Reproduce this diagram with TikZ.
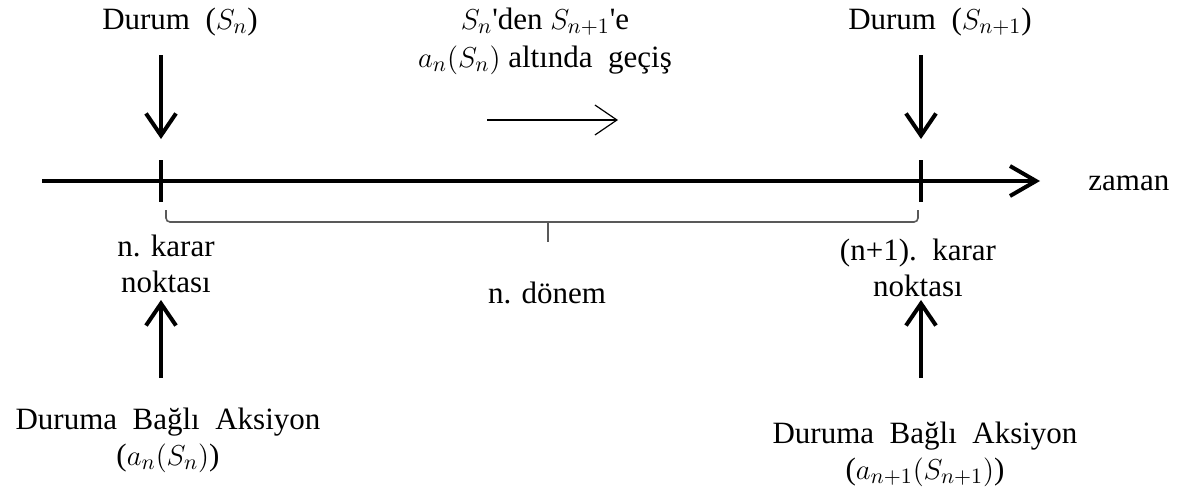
\documentclass[tikz,border=0pt]{standalone}
\usepackage{fontspec}
\setmainfont{LiberationSerif}[Extension=.ttf, UprightFont=*-Regular, BoldFont=*-Bold, ItalicFont=*-Italic]
\usepackage{amsmath}
\usepackage{tikz}
\usetikzlibrary{positioning,arrows.meta}

\begin{document}
\begin{tikzpicture}[
  x=0.5pt, y=-0.5pt,
  lbl/.style={font=\fontsize{15.5}{18}\selectfont, align=center, inner sep=0pt},
  bigarrow/.style={line width=2pt, -{Straight Barb[length=11pt, width=15pt]}},
  axisline/.style={line width=2pt, -{Straight Barb[length=13pt, width=15pt]}},
  thinarrow/.style={line width=0.6pt, -{Straight Barb[length=11pt, width=15pt]}},
  tickmark/.style={line width=2pt},
  period/.style={draw=black!65, line width=0.8pt, rounded corners=2pt}]
\useasboundingbox (0,0) rectangle (1182,493);
% time axis and decision points
\coordinate (ax0) at (42,181);
\coordinate (ax1) at (1040,181);
\coordinate (kL) at (161,181);
\coordinate (kR) at (921,181);
\draw[axisline] (ax0) -- (ax1);
\draw[tickmark] ([yshift=10.5pt]kL) -- ([yshift=-10.5pt]kL);
\draw[tickmark] ([yshift=10.5pt]kR) -- ([yshift=-10.5pt]kR);
\node[lbl, anchor=west] (zaman) at (1088,183) {zaman};
% states
\node[lbl] (durumL) at (180,22) {Durum\ \ ($S_n$)};
\node[lbl] (durumR) at (940,22) {Durum\ \ ($S_{n+1}$)};
\coordinate (dL0) at (161,55);  \coordinate (dL1) at (161,139);
\coordinate (dR0) at (921,55);  \coordinate (dR1) at (921,139);
\draw[bigarrow] (dL0) -- (dL1);
\draw[bigarrow] (dR0) -- (dR1);
% transition
\node[lbl, font=\fontsize{15.5}{19}\selectfont] (gecis) at (545,41)
  {$S_n$\textquotesingle den $S_{n+1}$\textquotesingle e\\ $a_n(S_n)$ altında\ \ geçiş};
\coordinate (g0) at (487,120);
\coordinate (g1) at (618,120);
\draw[thinarrow] (g0) -- (g1);
% period
\draw[period] (166,210) -- (166,222) -- (918,222) -- (918,210);
\draw[period] (548,222) -- (548,242);
\node[lbl] (donem) at (547,293) {n. dönem};
\node[lbl] (kararL) at (166,264) {n. karar\\ noktası};
\node[lbl] (kararR) at (918,268) {(n+1).\ \ karar\\ noktası};
% actions
\coordinate (uL0) at (161,378);  \coordinate (uL1) at (161,300);
\coordinate (uR0) at (921,378);  \coordinate (uR1) at (921,300);
\draw[bigarrow] (uL0) -- (uL1);
\draw[bigarrow] (uR0) -- (uR1);
\node[lbl] (aksL) at (168,440) {Duruma\ \ Bağlı\ \ Aksiyon\\ ($a_n(S_n)$)};
\node[lbl] (aksR) at (925,454) {Duruma\ \ Bağlı\ \ Aksiyon\\ ($a_{n+1}(S_{n+1})$)};
\end{tikzpicture}
\end{document}
